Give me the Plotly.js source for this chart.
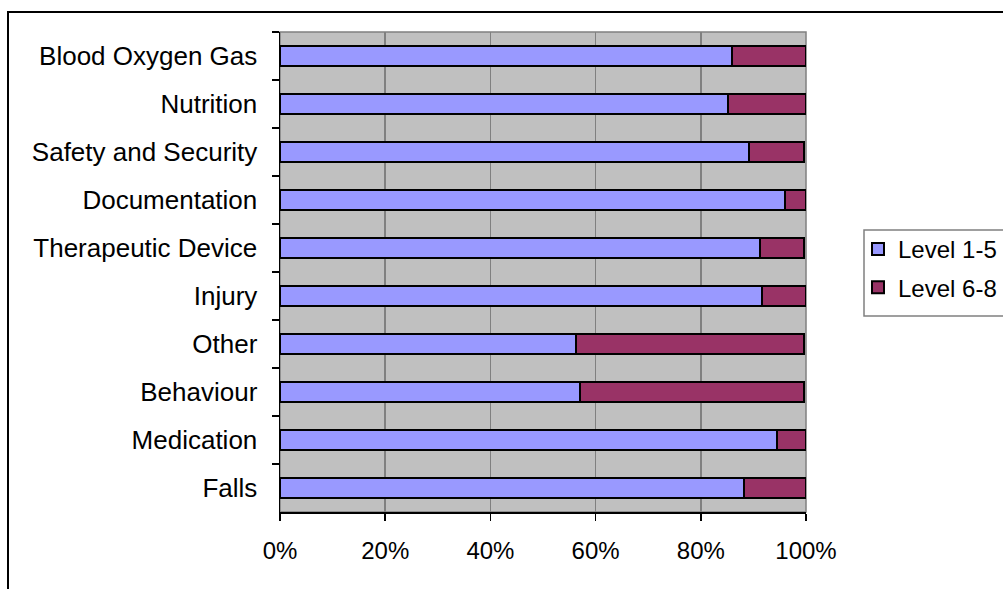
<!DOCTYPE html>
<html>
<head>
<meta charset="utf-8">
<script src="https://cdn.plot.ly/plotly-3.0.1.min.js"></script>
<style>
  html, body { margin: 0; padding: 0; background: #ffffff; }
  #chart { width: 1003px; height: 589px; }
</style>
</head>
<body>
<div id="chart"></div>
<script>
// Incident categories, listed top to bottom
const categories = [
  'Blood Oxygen Gas', 'Nutrition', 'Safety and Security', 'Documentation',
  'Therapeutic Device', 'Injury', 'Other', 'Behaviour', 'Medication', 'Falls'
];
// Share of incidents per severity band (%)
const level1to5 = [85.9, 85.1, 89.2, 96.1, 91.2, 91.6, 56.2, 57.0, 94.5, 88.2];
const level6to8 = [14.1, 14.9, 10.4, 3.9, 8.4, 8.4, 43.4, 42.6, 5.5, 11.8];
const xTicks = [0, 20, 40, 60, 80, 100];

const FONT = '"Liberation Sans", Arial, sans-serif';

// Plot-area geometry in pixels (used to place the frame and legend box)
const W = 1003, H = 589;
const M = { l: 280, r: 197, t: 32, b: 77 };
const pw = W - M.l - M.r, ph = H - M.t - M.b;
const px = x => (x - M.l) / pw;
const py = y => (H - M.b - y) / ph;

const traces = [
  {
    type: 'bar', orientation: 'h', name: 'Level 1-5', legendgroup: 'a',
    y: categories, x: level1to5,
    marker: { color: '#9999FF', line: { color: '#000000', width: 2 } },
    hoverinfo: 'skip'
  },
  {
    type: 'bar', orientation: 'h', name: 'Level 6-8', legendgroup: 'b',
    y: categories, x: level6to8,
    marker: { color: '#993366', line: { color: '#000000', width: 2 } },
    hoverinfo: 'skip'
  }
];

const layout = {
  width: W, height: H,
  margin: { l: M.l, r: M.r, t: M.t, b: M.b, autoexpand: false },
  paper_bgcolor: '#ffffff',
  plot_bgcolor: '#C0C0C0',
  barmode: 'stack',
  bargap: 0.58,
  font: { family: FONT, size: 24, color: '#000000' },
  showlegend: true,
  legend: {
    x: px(858), y: py(227), xanchor: 'left', yanchor: 'top',
    bgcolor: 'rgba(0,0,0,0)', borderwidth: 0,
    font: { family: FONT, size: 24, color: '#000000' },
    traceorder: 'grouped', tracegroupgap: 4,
    itemwidth: 30
  },
  xaxis: {
    range: [0, 100],
    tickvals: xTicks,
    ticktext: xTicks.map(v => v + '%'),
    showgrid: true, gridcolor: '#808080', gridwidth: 1.5,
    zeroline: false,
    showline: true, linecolor: '#000000', linewidth: 1.5,
    ticks: 'outside', ticklen: 7, tickwidth: 1.5, tickcolor: '#000000',
    ticklabelstandoff: 10,
    tickfont: { family: FONT, size: 24, color: '#000000' },
    fixedrange: true
  },
  yaxis: {
    type: 'category',
    autorange: 'reversed',
    showgrid: false,
    showline: true, linecolor: '#000000', linewidth: 1.5,
    ticks: 'outside', tickson: 'boundaries', ticklen: 7, tickwidth: 1.5, tickcolor: '#000000',
    ticklabelstandoff: 16,
    tickfont: { family: FONT, size: 26, color: '#000000' },
    fixedrange: true
  },
  shapes: [
    // thin grey border of the plotting area
    {
      type: 'rect', xref: 'paper', yref: 'paper', layer: 'below',
      x0: 0, x1: 1, y0: 0, y1: 1,
      line: { color: '#808080', width: 1.5 }
    },
    // legend box
    {
      type: 'rect', xref: 'paper', yref: 'paper', layer: 'below',
      x0: px(864), x1: px(1010), y0: py(316), y1: py(230),
      fillcolor: '#ffffff',
      line: { color: '#808080', width: 1.5 }
    },
    // outer chart frame
    {
      type: 'rect', xref: 'paper', yref: 'paper', layer: 'above',
      x0: px(8), x1: px(1010), y0: py(600), y1: py(12),
      line: { color: '#000000', width: 2 }
    }
  ]
};

Plotly.newPlot('chart', traces, layout, { displayModeBar: false, staticPlot: true });
</script>
</body>
</html>
